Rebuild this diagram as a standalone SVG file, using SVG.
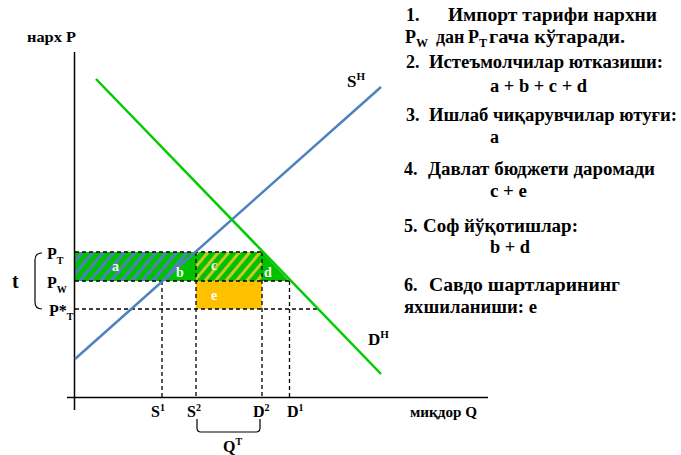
<svg xmlns="http://www.w3.org/2000/svg" width="681" height="455" viewBox="0 0 681 455">
<style>
text{font-family:"Liberation Serif","Times New Roman",serif;font-weight:bold;fill:#000}
.lbl{font-size:16px}
.note{font-size:18px}
.area{font-size:14px;fill:#fff}
.dash{stroke:#000;stroke-width:1.3;stroke-dasharray:4 3;fill:none}
.axis{stroke:#000;stroke-width:1.5;fill:none}
</style>
<defs>
<pattern id="hatchBlue" patternUnits="userSpaceOnUse" width="8" height="10" patternTransform="rotate(40)">
<rect width="8" height="10" fill="#00C000"/>
<rect width="3" height="10" fill="#4F81BD"/>
</pattern>
<pattern id="hatchYellow" patternUnits="userSpaceOnUse" width="8" height="10" patternTransform="rotate(40)">
<rect width="8" height="10" fill="#00C000"/>
<rect width="3" height="10" fill="#C9C925"/>
</pattern>
</defs>
<rect width="681" height="455" fill="#fff"/>

<g id="areas">
<polygon points="75,252 196,252 163,281 75,281" fill="url(#hatchBlue)"/>
<polygon points="196,252 196,281 163,281" fill="#00C000"/>
<rect x="196" y="252" width="66" height="29" fill="url(#hatchYellow)"/>
<polygon points="262,252 262,281 289,281" fill="#00C000"/>
<rect x="196" y="281" width="66" height="28" fill="#FFC000"/>
</g>

<g id="dashes">
<line class="dash" x1="75" y1="252" x2="262" y2="252"/>
<line class="dash" x1="75" y1="281" x2="290" y2="281"/>
<line class="dash" x1="75" y1="309" x2="317" y2="309"/>
<line class="dash" x1="162" y1="281" x2="162" y2="397"/>
<line class="dash" x1="196" y1="252" x2="196" y2="397"/>
<line class="dash" x1="262" y1="252" x2="262" y2="397"/>
<line class="dash" x1="289.5" y1="281" x2="289.5" y2="397"/>
</g>

<g id="axes">
<line class="axis" x1="74.5" y1="52" x2="74.5" y2="410"/>
<line class="axis" x1="67" y1="397.5" x2="488" y2="397.5"/>
</g>

<g id="curves">
<line id="supply" x1="75" y1="359" x2="381" y2="87" stroke="#4F81BD" stroke-width="2.5"/>
<line id="demand" x1="96" y1="79" x2="381" y2="374" stroke="#00CC00" stroke-width="2.5"/>
</g>

<g id="area-labels">
<text class="area" x="112" y="271">a</text>
<text class="area" x="176" y="277">b</text>
<text class="area" x="211" y="270">c</text>
<text class="area" x="264" y="277">d</text>
<text class="area" x="211" y="300">e</text>
</g>

<g id="axis-labels">
<text x="27" y="42" font-size="15px" textLength="49" lengthAdjust="spacingAndGlyphs">нарх P</text>
<text x="410" y="417" font-size="15px" textLength="67" lengthAdjust="spacingAndGlyphs">миқдор Q</text>
<text x="347" y="87" font-size="17px">S<tspan font-size="11px" dy="-7">H</tspan></text>
<text x="368" y="345" font-size="17px">D<tspan font-size="11px" dy="-7">H</tspan></text>
</g>

<g id="price-labels">
<text class="lbl" x="47" y="259">P<tspan font-size="10px" dy="5">T</tspan></text>
<text class="lbl" x="47" y="288">P<tspan font-size="10px" dy="5">W</tspan></text>
<text class="lbl" x="49" y="316">P*<tspan font-size="10px" dy="4">T</tspan></text>
<text x="12" y="288" font-size="20px">t</text>
<path d="M42,253 Q35,253 35,260 L35,302 Q35,309 42,309" fill="none" stroke="#000" stroke-width="1.2"/>
</g>

<g id="quantity-labels">
<text class="lbl" x="151" y="417">S<tspan font-size="10px" dy="-6">1</tspan></text>
<text class="lbl" x="187" y="417">S<tspan font-size="10px" dy="-6">2</tspan></text>
<text class="lbl" x="253" y="417">D<tspan font-size="10px" dy="-6">2</tspan></text>
<text class="lbl" x="287" y="417">D<tspan font-size="10px" dy="-6">1</tspan></text>
<path d="M197,419 L197,428 Q197,432 201,432 L256,432 Q260,432 260,428 L260,419" fill="none" stroke="#000" stroke-width="1.2"/>
<text class="lbl" x="223" y="452">Q<tspan font-size="10px" dy="-7">T</tspan></text>
</g>

<g id="notes">
<text class="note" x="406" y="21">1.</text>
<text class="note" x="448" y="21" textLength="209" lengthAdjust="spacingAndGlyphs">Импорт тарифи нархни</text>
<text class="note" x="405" y="43">P<tspan font-size="12px" dy="4">W</tspan></text>
<text class="note" x="436" y="43">дан</text>
<text class="note" x="468" y="43">P<tspan font-size="12px" dy="4">T</tspan></text>
<text class="note" x="489" y="43" textLength="136" lengthAdjust="spacingAndGlyphs">гача кўтаради.</text>
<text class="note" x="406" y="68">2.</text>
<text class="note" x="429" y="68" textLength="234" lengthAdjust="spacingAndGlyphs">Истеъмолчилар ютказиши:</text>
<text class="note" x="490" y="92" textLength="97" lengthAdjust="spacingAndGlyphs">a + b + c + d</text>
<text class="note" x="406" y="121">3.</text>
<text class="note" x="429" y="121" textLength="248" lengthAdjust="spacingAndGlyphs">Ишлаб чиқарувчилар ютуғи:</text>
<text class="note" x="490" y="143">a</text>
<text class="note" x="404" y="175">4.</text>
<text class="note" x="428" y="175" textLength="227" lengthAdjust="spacingAndGlyphs">Давлат бюджети даромади</text>
<text class="note" x="490" y="197" textLength="37" lengthAdjust="spacingAndGlyphs">c + e</text>
<text class="note" x="404" y="232">5.</text>
<text class="note" x="423" y="232" textLength="155" lengthAdjust="spacingAndGlyphs">Соф йўқотишлар:</text>
<text class="note" x="490" y="253" textLength="40" lengthAdjust="spacingAndGlyphs">b + d</text>
<text class="note" x="404" y="291">6.</text>
<text class="note" x="429" y="291" textLength="191" lengthAdjust="spacingAndGlyphs">Савдо шартларининг</text>
<text class="note" x="404" y="313" textLength="133" lengthAdjust="spacingAndGlyphs">яхшиланиши: е</text>
</g>
</svg>
